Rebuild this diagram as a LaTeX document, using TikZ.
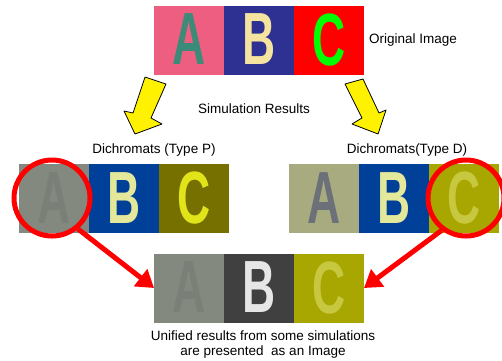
\documentclass[tikz,border=0pt]{standalone}
\usepackage{graphicx}
\usepackage{fontspec}
\setmainfont{Liberation Sans}
\usetikzlibrary{positioning,arrows.meta}

% tile colours
\definecolor{opink}{HTML}{EE5E80}
\definecolor{oteal}{HTML}{3C8A78}
\definecolor{oblue}{HTML}{2E3192}
\definecolor{ocream}{HTML}{F4E4A0}
\definecolor{ored}{HTML}{FF0000}
\definecolor{ogreen}{HTML}{00FF00}
\definecolor{pgrey}{HTML}{848980}
\definecolor{patext}{HTML}{7A7F77}
\definecolor{pblue}{HTML}{004098}
\definecolor{pbtext}{HTML}{E4E89A}
\definecolor{polive}{HTML}{757000}
\definecolor{pctext}{HTML}{E2E41A}
\definecolor{dkhaki}{HTML}{A8AA80}
\definecolor{datext}{HTML}{6C7078}
\definecolor{dolive}{HTML}{A8A600}
\definecolor{dctext}{HTML}{C8C840}
\definecolor{udark}{HTML}{404040}
\definecolor{ubtext}{HTML}{E6E6E6}

\newcommand\abcsize{\fontsize{74}{74}\selectfont\bfseries}
\newcommand\abc[1]{\raisebox{1.5pt}{\scalebox{0.62}[1]{#1}}}

\tikzset{
  tile/.style={minimum width=70pt, minimum height=69pt, inner sep=0pt, outer sep=0pt, font=\abcsize},
  label/.style={font=\fontsize{13.5}{15}\selectfont, inner sep=0pt},
  lens/.style={circle, draw=red, line width=5pt, minimum size=76pt, inner sep=0pt},
  redarrow/.style={red, line width=5pt, -{Triangle[length=17pt,width=21pt]}},
  blockarrow/.style={fill=yellow, draw=black, line width=0.8pt, line join=round}
}

\begin{document}
\begin{tikzpicture}[x=1pt,y=-1pt, node distance=0pt]
        \useasboundingbox (0,0) rectangle (502,360);

        % original image
        \node[tile, fill=opink, text=oteal] (oA) at (189,40) {\abc{A}};
        \node[tile, fill=oblue, text=ocream, right=of oA] (oB) {\abc{B}};
        \node[tile, fill=ored, text=ogreen, right=of oB] (oC) {\abc{C}};
        \node[label, anchor=west] at (369,40) {Original Image};

        % yellow arrows
        \draw[blockarrow] (145,77) -- (166,84) -- (151,118) -- (162,124) -- (135,134) -- (124,111) -- (133,113) -- cycle;
        \draw[blockarrow] (345,84) -- (363,79) -- (379,113) -- (386,110) -- (378,134) -- (352,124) -- (362,118) -- cycle;
        \node[label] at (254,109) {Simulation Results};

        % type P
        \node[label] at (154,150) {Dichromats (Type P)};
        \node[tile, fill=pgrey, text=patext] (pA) at (54,198.5) {\abc{A}};
        \node[tile, fill=pblue, text=pbtext, right=of pA] (pB) {\abc{B}};
        \node[tile, fill=polive, text=pctext, right=of pB] (pC) {\abc{C}};

        % type D
        \node[label] at (407,150) {Dichromats(Type D)};
        \node[tile, fill=dkhaki, text=datext] (dA) at (324,198.5) {\abc{A}};
        \node[tile, fill=pblue, text=pbtext, right=of dA] (dB) {\abc{B}};
        \node[tile, fill=dolive, text=dctext, right=of dB] (dC) {\abc{C}};

        % unified image
        \node[tile, fill=pgrey, text=patext] (uA) at (189,288) {\abc{A}};
        \node[tile, fill=udark, text=ubtext, right=of uA] (uB) {\abc{B}};
        \node[tile, fill=dolive, text=dctext, right=of uB] (uC) {\abc{C}};
        \node[label, align=center, anchor=north] at (263,330.5) {Unified results from some simulations\\are presented\ \ as an Image};

        % picked tiles
        \node[lens] (lensP) at (52,198) {};
        \node[lens] (lensD) at (466,198) {};
        \draw[redarrow] (lensP.-50) -- (uA.west);
        \draw[redarrow] (lensD.233) -- (uC.east);
\end{tikzpicture}
\end{document}
